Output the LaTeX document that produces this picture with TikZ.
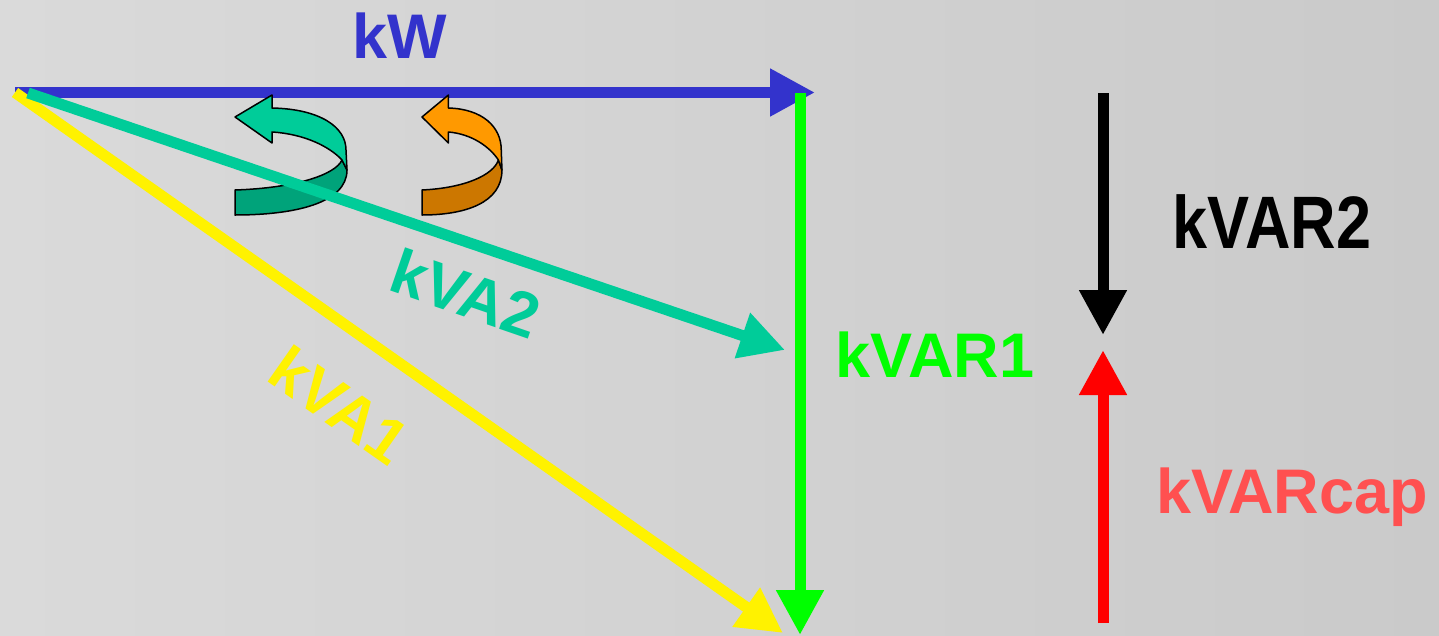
\documentclass[tikz,border=0pt]{standalone}
\usepackage{fontspec}
\setmainfont{Liberation Sans}
\usetikzlibrary{arrows.meta}

\definecolor{kwblue}{HTML}{3333CC}
\definecolor{kvagreen}{HTML}{00CC99}
\definecolor{kvagreendark}{HTML}{00A37A}
\definecolor{turnorange}{HTML}{FF9900}
\definecolor{turnorangedark}{HTML}{CC7700}
\definecolor{capred}{HTML}{FF5050}
\definecolor{bgleft}{HTML}{DADADA}
\definecolor{bgright}{HTML}{CACACA}

\tikzset{
  vec/.style={line width=11pt, -{Triangle[length=45pt,width=45pt]}},
  lbl/.style={font=\fontsize{63}{63}\selectfont\bfseries, inner sep=0pt},
  turn/.style={draw=black, line width=1.5pt, line join=round}
}

% curved arrow: #1 = front colour, #2 = back colour
\newcommand{\turnarrow}[2]{%
  \fill[turn, fill=#2] (107,65) .. controls (100,80) and (60,93) .. (0,95)
    -- (0,120) .. controls (60,120) and (112,108) .. (112,75) -- cycle;
  \fill[turn, fill=#1] (0,22) -- (37,0) -- (37,13)
    .. controls (85,14) and (111,32) .. (111,55) -- (112,75) -- (107,65)
    .. controls (95,52) and (70,39) .. (37,37) -- (37,48) -- cycle;
}

\begin{document}
\begin{tikzpicture}[x=1pt,y=-1pt]
  \shade[left color=bgleft, right color=bgright] (0,0) rectangle (1439,635);
  \useasboundingbox (0,0) rectangle (1439,635);

  % corners of the power triangle
  \coordinate (O) at (15,92.5);
  \coordinate (Ov) at (28,93);
  \coordinate (kwtip) at (815,92.5);
  \coordinate (vartop) at (800,93);
  \coordinate (varbot) at (800,635);
  \coordinate (va1tip) at (783,633);
  \coordinate (va2tip) at (785,350);
  % right hand arrows
  \coordinate (var2top) at (1103,93);
  \coordinate (var2tip) at (1103,335);
  \coordinate (capbot) at (1103,623);
  \coordinate (captip) at (1103,350);

  % labels
  \node[lbl, kwblue, anchor=base] (kw) at (400,58) {kW};
  \node[lbl, black, anchor=base, yscale=1.18] (kvar2) at (1272,248) {kVAR2};
  \node[lbl, green, anchor=base] (kvar1) at (935,377) {kVAR1};
  \node[lbl, capred, anchor=base] (kvarcap) at (1292,513) {kVARcap};
  \node[lbl, kvagreen, rotate=-19] (kva2) at (466,293) {kVA2};
  \node[lbl, yellow, rotate=-35] (kva1) at (340,405) {kVA1};

  % triangle sides
  \draw[vec, kwblue] (O) -- (kwtip);
  \draw[vec, yellow] (O) -- (va1tip);

  % rotation arrows
  \begin{scope}[shift={(235,95)}]
    \turnarrow{kvagreen}{kvagreendark}
  \end{scope}
  \begin{scope}[shift={(422,95)}, xscale=0.714]
    \turnarrow{turnorange}{turnorangedark}
  \end{scope}

  \draw[vec, kvagreen] (Ov) -- (va2tip);
  \draw[vec, green] (vartop) -- (varbot);

  % compensation
  \draw[vec, black] (var2top) -- (var2tip);
  \draw[vec, red] (capbot) -- (captip);
\end{tikzpicture}
\end{document}
